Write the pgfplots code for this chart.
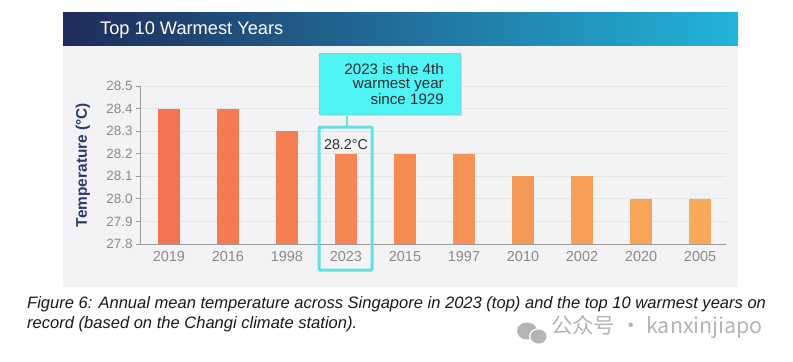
\documentclass[border=0pt]{standalone}
\usepackage{pgfplots}
\pgfplotsset{compat=1.18}
\usepackage{fontspec}
\setmainfont{Liberation Sans}
\newfontfamily\cjk{Noto Sans CJK SC}
\definecolor{panel}{HTML}{F3F3F5}
\definecolor{tdark}{HTML}{1F2B5A}
\definecolor{tmid}{HTML}{25527F}
\definecolor{tlight}{HTML}{22B4DA}
\definecolor{tickgray}{HTML}{8A8A8A}
\definecolor{axisgray}{HTML}{9A9A9A}
\definecolor{gridgray}{HTML}{E4E4E6}
\definecolor{navy}{HTML}{2B3A6E}
\definecolor{callout}{HTML}{50F4F4}
\definecolor{callborder}{HTML}{62E0E2}
\definecolor{txtdark}{HTML}{2E2E2E}
\definecolor{wm}{HTML}{B4B4B4}
\definecolor{c0}{HTML}{F27450}
\definecolor{c1}{HTML}{F37A51}
\definecolor{c2}{HTML}{F47F52}
\definecolor{c3}{HTML}{F58653}
\definecolor{c4}{HTML}{F58C54}
\definecolor{c5}{HTML}{F69255}
\definecolor{c6}{HTML}{F69856}
\definecolor{c7}{HTML}{F79E57}
\definecolor{c8}{HTML}{F7A458}
\definecolor{c9}{HTML}{F8AA59}
\begin{document}
\begin{tikzpicture}[x=1bp,y=1bp]
\fill[white] (0,0) rectangle (793,361);
\fill[panel] (63,74) rectangle (738,348);
\shade[left color=tdark, middle color=tmid, right color=tlight] (63,316) rectangle (738,348);
\node[anchor=base west, inner sep=0, text=white, font=\fontsize{18.3}{20}\selectfont] at (100,327) {Top 10 Warmest Years};
\begin{axis}[
  at={(140bp,117bp)}, anchor=south west, scale only axis,
  width=586bp, height=158bp,
  xmin=-0.49, xmax=9.44, ymin=27.8, ymax=28.5,
  xtick={0,1,2,3,4,5,6,7,8,9},
  xticklabels={2019,2016,1998,2023,2015,1997,2010,2002,2020,2005},
  ytick={27.8,27.9,28.0,28.1,28.2,28.3,28.4,28.5},
  yticklabel style={/pgf/number format/fixed, /pgf/number format/fixed zerofill, /pgf/number format/precision=1},
  /pgf/number format/assume math mode=true,
  axis lines*=left,
  axis line style={-, draw=axisgray, line width=0.9bp},
  ymajorgrids, grid style={gridgray, line width=0.8bp},
  tick align=outside, major tick length=4bp,
  xtick style={draw=none}, ytick style={draw=axisgray, line width=0.8bp},
  x tick label style={text=tickgray, font=\fontsize{14.5}{16}\selectfont},
  y tick label style={text=tickgray, font=\fontsize{13.5}{15}\selectfont},
  ylabel={\textbf{Temperature (°C)}},
  ylabel style={at={(axis description cs:-0.0973,0.5)}, anchor=center, text=navy, font=\fontsize{15.5}{17}\selectfont},
  clip=false,
]
\addplot[ybar, bar width=22bp, bar shift=0pt, fill=c0, draw=none] coordinates {(0,28.4)};
\addplot[ybar, bar width=22bp, bar shift=0pt, fill=c1, draw=none] coordinates {(1,28.4)};
\addplot[ybar, bar width=22bp, bar shift=0pt, fill=c2, draw=none] coordinates {(2,28.3)};
\addplot[ybar, bar width=22bp, bar shift=0pt, fill=c3, draw=none] coordinates {(3,28.2)};
\addplot[ybar, bar width=22bp, bar shift=0pt, fill=c4, draw=none] coordinates {(4,28.2)};
\addplot[ybar, bar width=22bp, bar shift=0pt, fill=c5, draw=none] coordinates {(5,28.2)};
\addplot[ybar, bar width=22bp, bar shift=0pt, fill=c6, draw=none] coordinates {(6,28.1)};
\addplot[ybar, bar width=22bp, bar shift=0pt, fill=c7, draw=none] coordinates {(7,28.1)};
\addplot[ybar, bar width=22bp, bar shift=0pt, fill=c8, draw=none] coordinates {(8,28.0)};
\addplot[ybar, bar width=22bp, bar shift=0pt, fill=c9, draw=none] coordinates {(9,28.0)};
\node[anchor=base, inner sep=0, text=txtdark, font=\fontsize{14.3}{16}\selectfont] at (axis cs:3,28.2) [yshift=4bp] {28.2°C};
\end{axis}
% highlight and callout
\draw[callborder, line width=3bp, rounded corners=1bp] (319,234) rectangle (372,91);
\draw[callborder, line width=2bp] (347,247) -- (347,234);
\fill[black!15] (321,245) rectangle (462,306);
\fill[callout, draw=callborder, line width=0.6bp] (319,247) rectangle (460,308);
\node[anchor=base east, inner sep=0, text=txtdark, font=\fontsize{15.2}{17}\selectfont] at (444,287) {2023 is the 4th};
\node[anchor=base east, inner sep=0, text=txtdark, font=\fontsize{15.2}{17}\selectfont] at (444,272.5) {warmest year};
\node[anchor=base east, inner sep=0, text=txtdark, font=\fontsize{15.2}{17}\selectfont] at (444,257) {since 1929};
% caption
\node[anchor=base west, inner sep=0, text=black!90, font=\fontsize{16.6}{18}\selectfont\itshape] at (27,53) {Figure 6: Annual mean temperature across Singapore in 2023 (top) and the top 10 warmest years on};
\node[anchor=base west, inner sep=0, text=black!90, font=\fontsize{16.6}{18}\selectfont\itshape] at (27,33) {record (based on the Changi climate station).};
% watermark
\fill[wm] (527,30) ellipse (10 and 8.5);
\fill[white] (538.5,24.5) ellipse (9.5 and 8.3);
\fill[wm] (538.5,24.5) ellipse (8 and 7);
\node[anchor=base east, inner sep=0, text=wm, font=\cjk\fontsize{21.5}{23}\selectfont] at (763,28) {公众号 · kanxinjiapo};
\end{tikzpicture}
\end{document}
